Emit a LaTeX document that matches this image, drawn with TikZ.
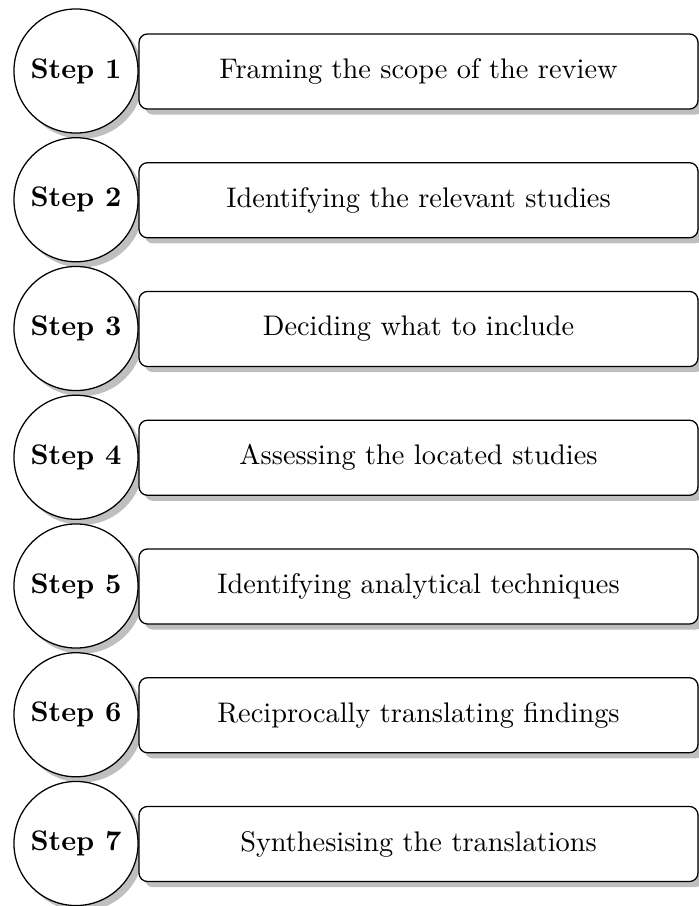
\documentclass[tikz,border=0pt]{standalone}
\usetikzlibrary{shadows}
\begin{document}
\begin{tikzpicture}[x=0.353pt,y=-0.353pt,
  stepcircle/.style={circle,draw,fill=white,line width=0.45pt,
    minimum size=43.8pt,inner sep=0pt,font=\bfseries,
    drop shadow={fill=black!25,opacity=1,shadow xshift=2pt,shadow yshift=-2pt}},
  stagebox/.style={rectangle,rounded corners=3pt,draw,fill=white,line width=0.45pt,
    minimum width=197.3pt,minimum height=26.5pt,inner sep=0pt,
    drop shadow={fill=black!25,opacity=1,shadow xshift=2pt,shadow yshift=-2pt}}]
  \useasboundingbox (0,0) rectangle (699,906);
  \foreach \i/\txt in {1/Framing the scope of the review,
                        2/Identifying the relevant studies,
                        3/Deciding what to include,
                        4/Assessing the located studies,
                        5/Identifying analytical techniques,
                        6/Reciprocally translating findings,
                        7/Synthesising the translations}{
    \node[stepcircle] (s\i) at (76,{71+128.75*(\i-1)}) {Step \i};
    \node[stagebox] (b\i) at (418.5,{71.5+128.75*(\i-1)}) {\txt};
  }
\end{tikzpicture}
\end{document}
